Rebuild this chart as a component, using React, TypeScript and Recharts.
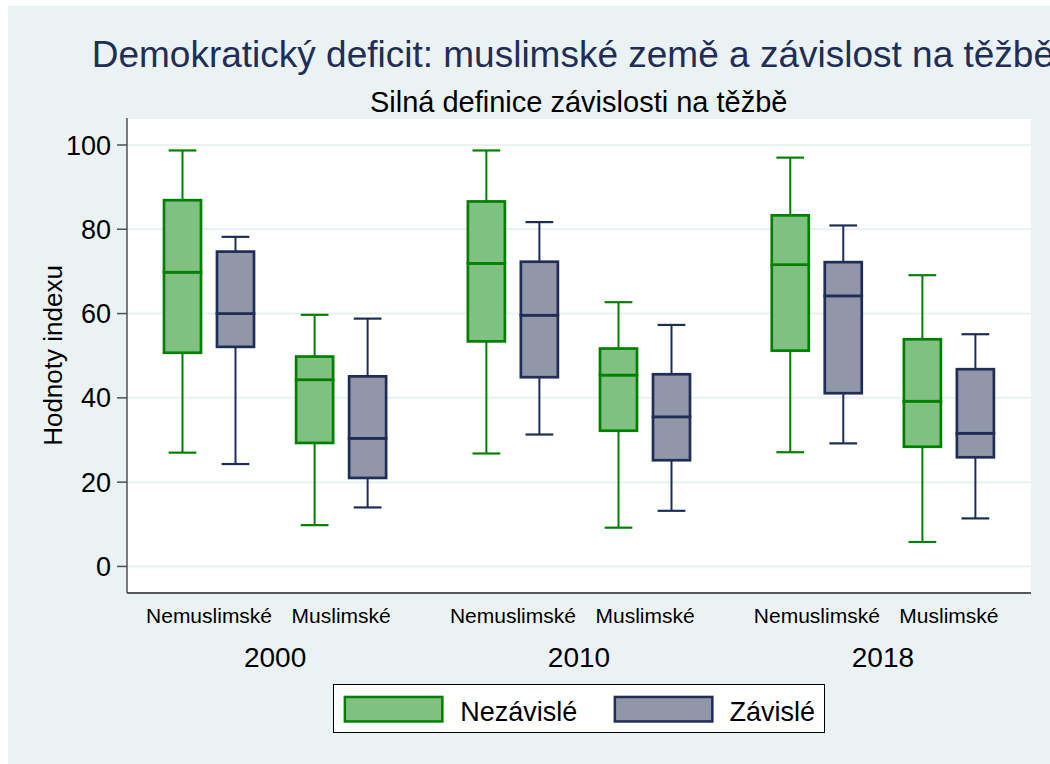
import React from "react";
import { Bar, CartesianGrid, ComposedChart, Legend, XAxis, YAxis } from "recharts";

const years = ["2000", "2010", "2018"];
const groups = ["Nemuslimské", "Muslimské"];
const seriesNames = ["Nezávislé", "Závislé"];
const yTicks = [0, 20, 40, 60, 80, 100];

// Nezávislé (zelená) – pořadí: 2000 nemusl., 2000 musl., 2010 ..., 2018 ...
const indMin = [27.0, 9.8, 26.8, 9.2, 27.1, 5.8];
const indQ1 = [50.7, 29.3, 53.4, 32.2, 51.2, 28.4];
const indMed = [69.8, 44.3, 71.9, 45.4, 71.6, 39.2];
const indQ3 = [86.9, 49.8, 86.6, 51.7, 83.3, 53.9];
const indMax = [98.7, 59.7, 98.7, 62.7, 97.0, 69.1];

// Závislé (navy)
const depMin = [24.3, 14.0, 31.3, 13.2, 29.2, 11.4];
const depQ1 = [52.1, 21.0, 44.9, 25.2, 41.1, 25.9];
const depMed = [60.0, 30.4, 59.6, 35.5, 64.2, 31.6];
const depQ3 = [74.7, 45.1, 72.3, 45.6, 72.2, 46.8];
const depMax = [78.2, 58.8, 81.7, 57.3, 80.9, 55.1];

const W = 1042;
const H = 758;
const YEAR_STEP = 2.3;
const X_DOMAIN: [number, number] = [0.379, 7.221];
const Y_DOMAIN: [number, number] = [-6.3, 106.4];

const GREEN = "#008000";
const GREEN_FILL = "#80c080";
const NAVY = "#1f2d57";
const NAVY_FILL = "#9197a9";
const BG = "#eaf2f3";

const rows = years.flatMap((year, yi) =>
  groups.map((group, gi) => {
    const i = yi * 2 + gi;
    return {
      year,
      group,
      pos: 1 + yi * YEAR_STEP + gi,
      gBase: indMin[i],
      gLw: indQ1[i] - indMin[i],
      gLb: indMed[i] - indQ1[i],
      gUb: indQ3[i] - indMed[i],
      gUw: indMax[i] - indQ3[i],
      bBase: depMin[i],
      bLw: depQ1[i] - depMin[i],
      bLb: depMed[i] - depQ1[i],
      bUb: depQ3[i] - depMed[i],
      bUw: depMax[i] - depQ3[i],
    };
  })
);

const yearCenters = years.map((_, yi) => 1.5 + yi * YEAR_STEP);

const empty = () => <g />;

function whisker(color: string, capAt: "top" | "bottom") {
  return (p: any) => {
    const { x, y, width, height } = p;
    const cx = x + width / 2;
    const half = width * 0.375;
    const capY = capAt === "top" ? y : y + height;
    return (
      <g>
        <line x1={cx} x2={cx} y1={y} y2={y + height} stroke={color} strokeWidth={2} />
        <line x1={cx - half} x2={cx + half} y1={capY} y2={capY} stroke={color} strokeWidth={2.2} />
      </g>
    );
  };
}

function boxPart(fill: string, stroke: string) {
  return (p: any) => (
    <rect x={p.x} y={p.y} width={p.width} height={p.height} fill={fill} stroke={stroke} strokeWidth={2.7} />
  );
}

function GroupTick(props: any) {
  const { x, y, payload } = props;
  const row = rows.find((r) => Math.abs(r.pos - payload.value) < 1e-6);
  return (
    <text x={x} y={y + 30} textAnchor="middle" fontSize={21} fill="#000">
      {row ? row.group : ""}
    </text>
  );
}

function YearTick(props: any) {
  const { x, y, payload } = props;
  const yi = yearCenters.findIndex((c) => Math.abs(c - payload.value) < 1e-6);
  return (
    <text x={x} y={y + 30} textAnchor="middle" fontSize={28} fill="#000">
      {yi >= 0 ? years[yi] : ""}
    </text>
  );
}

function YLabel(props: any) {
  const vb = props.viewBox;
  const cx = vb.x + 53.7;
  const cy = vb.y + vb.height / 2;
  return (
    <text x={cx} y={cy} transform={`rotate(-90 ${cx} ${cy})`} textAnchor="middle" fontSize={26} fill="#000">
      Hodnoty indexu
    </text>
  );
}

function LegendBox() {
  const swatches = [
    { fill: GREEN_FILL, stroke: GREEN, sx: 10.6, tx: 127.3 },
    { fill: NAVY_FILL, stroke: NAVY, sx: 280.6, tx: 396.6 },
  ];
  return (
    <svg width={492} height={49} style={{ display: "block" }}>
      <rect x={0.5} y={0.5} width={491} height={48} fill="#fff" stroke="#000" strokeWidth={1} />
      {swatches.map((s, i) => (
        <g key={seriesNames[i]}>
          <rect x={s.sx + 1.25} y={12.95} width={97.5} height={24.5} fill={s.fill} stroke={s.stroke} strokeWidth={2.5} />
          <text x={s.tx} y={36.7} fontSize={27} fill="#000">
            {seriesNames[i]}
          </text>
        </g>
      ))}
    </svg>
  );
}

export default function App() {
  return (
    <div
      style={{
        position: "absolute",
        left: 8,
        top: 6,
        width: W,
        height: H,
        background: BG,
        overflow: "hidden",
        fontFamily: "'Liberation Sans', Arial, Helvetica, sans-serif",
      }}
    >
      <ComposedChart
        width={W}
        height={H}
        data={rows}
        margin={{ top: 112, right: 19, bottom: 77, left: 0 }}
        barSize={37}
        barGap={16}
      >
        <CartesianGrid horizontal vertical={false} fill="#ffffff" stroke={BG} strokeWidth={2} />
        <XAxis
          dataKey="pos"
          type="number"
          domain={X_DOMAIN}
          allowDataOverflow
          ticks={rows.map((r) => r.pos)}
          interval={0}
          tickSize={0}
          tickMargin={0}
          height={44}
          axisLine={{ stroke: "#262626", strokeWidth: 1.5 }}
          tickLine={false}
          tick={<GroupTick />}
        />
        <XAxis
          xAxisId="year"
          dataKey="pos"
          type="number"
          domain={X_DOMAIN}
          allowDataOverflow
          ticks={yearCenters}
          interval={0}
          tickSize={0}
          tickMargin={0}
          height={50}
          axisLine={false}
          tickLine={false}
          tick={<YearTick />}
        />
        <YAxis
          type="number"
          domain={Y_DOMAIN}
          allowDataOverflow
          ticks={yTicks}
          interval={0}
          width={119}
          tickSize={10}
          tickMargin={6}
          axisLine={{ stroke: "#505050", strokeWidth: 1.5 }}
          tickLine={{ stroke: "#505050", strokeWidth: 1.5 }}
          tick={{ fontSize: 27, fill: "#000" }}
          label={YLabel}
        />
        <Bar dataKey="gBase" stackId="g" shape={empty} isAnimationActive={false} />
        <Bar dataKey="gLw" stackId="g" shape={whisker(GREEN, "bottom")} isAnimationActive={false} />
        <Bar dataKey="gLb" stackId="g" shape={boxPart(GREEN_FILL, GREEN)} isAnimationActive={false} />
        <Bar dataKey="gUb" stackId="g" shape={boxPart(GREEN_FILL, GREEN)} isAnimationActive={false} />
        <Bar dataKey="gUw" stackId="g" shape={whisker(GREEN, "top")} isAnimationActive={false} />
        <Bar dataKey="bBase" stackId="b" shape={empty} isAnimationActive={false} />
        <Bar dataKey="bLw" stackId="b" shape={whisker(NAVY, "bottom")} isAnimationActive={false} />
        <Bar dataKey="bLb" stackId="b" shape={boxPart(NAVY_FILL, NAVY)} isAnimationActive={false} />
        <Bar dataKey="bUb" stackId="b" shape={boxPart(NAVY_FILL, NAVY)} isAnimationActive={false} />
        <Bar dataKey="bUw" stackId="b" shape={whisker(NAVY, "top")} isAnimationActive={false} />
        <Legend
          verticalAlign="middle"
          align="center"
          layout="horizontal"
          wrapperStyle={{ top: 678, left: 325, width: 492, height: 49 }}
          content={() => <LegendBox />}
        />
      </ComposedChart>
      <svg
        width={W}
        height={H}
        style={{ position: "absolute", left: 0, top: 0, pointerEvents: "none" }}
      >
        <text x={83.7} y={60.7} fontSize={37} fill={NAVY}>
          Demokratický deficit: muslimské země a závislost na těžbě
        </text>
        <text x={570.7} y={105.7} textAnchor="middle" fontSize={29} fill="#000">
          Silná definice závislosti na těžbě
        </text>
      </svg>
    </div>
  );
}
